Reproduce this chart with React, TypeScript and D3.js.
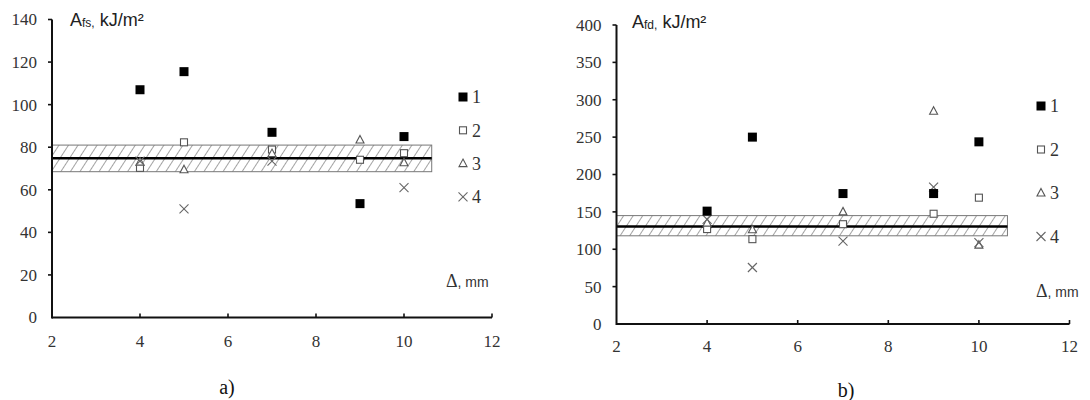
import React from "react";
import * as d3 from "d3";

const xValues = [4, 5, 7, 9, 10];
const xTicks = [2, 4, 6, 8, 10, 12];

// Panel a) A_fs, kJ/m²
const aSeries1 = [107, 115.5, 87, 53.5, 85];
const aSeries2 = [70.3, 82.3, 78.9, 74.1, 77.2];
const aSeries3 = [73, 69.4, 77, 83.4, 72.7];
const aSeries4: (number | null)[] = [73.5, 51, 73.5, null, 61];
const aYTicks = [0, 20, 40, 60, 80, 100, 120, 140];
const aBand = { low: 68.5, high: 81, mean: 74.8, xEnd: 10.63 };

// Panel b) A_fd, kJ/m²
const bSeries1 = [151, 250, 174.5, 174.5, 243.7];
const bSeries2 = [127, 113.5, 133.5, 147.5, 169];
const bSeries3 = [135, 126, 150, 284.6, 105.5];
const bSeries4: (number | null)[] = [140, 75.6, 111, 183, 109];
const bYTicks = [0, 50, 100, 150, 200, 250, 300, 350, 400];
const bBand = { low: 118, high: 145, mean: 130.5, xEnd: 10.63 };

const legendLabels = ["1", "2", "3", "4"];
const markerTypes = ["filled", "square", "triangle", "cross"];

const SERIF = "Liberation Serif, Times New Roman, serif";
const SANS = "Liberation Sans, Arial, sans-serif";

function Marker({ type, x, y }: { type: string; x: number; y: number }) {
  if (type === "filled") {
    return <rect x={x - 4.5} y={y - 4.5} width={9} height={9} fill="#000" />;
  }
  if (type === "square") {
    return <rect x={x - 3.5} y={y - 3.5} width={7} height={7} fill="#fff" stroke="#555" strokeWidth={1.1} />;
  }
  if (type === "triangle") {
    const p = d3.path();
    p.moveTo(x, y - 4.5);
    p.lineTo(x + 4, y + 3);
    p.lineTo(x - 4, y + 3);
    p.closePath();
    return <path d={p.toString()} fill="#fff" stroke="#555" strokeWidth={1.1} />;
  }
  const s = 4.5;
  return (
    <g stroke="#666" strokeWidth={1.1}>
      <line x1={x - s} y1={y - s} x2={x + s} y2={y + s} />
      <line x1={x - s} y1={y + s} x2={x + s} y2={y - s} />
    </g>
  );
}

type PanelProps = {
  id: string;
  x0: number;
  x1: number;
  y0: number;
  y1: number;
  yMax: number;
  yTicks: number[];
  series: (number | null)[][];
  band: { low: number; high: number; mean: number; xEnd: number };
  yLabelX: number;
  yLabelY: number;
  sub: string;
  subSep: string;
  legendX: number;
  legendY: number;
  legendStep: number;
  deltaX: number;
  deltaY: number;
  caption: string;
  captionX: number;
  captionY: number;
  xLabelY: number;
};

function Panel(p: PanelProps) {
  const x = d3.scaleLinear().domain([2, 12]).range([p.x0, p.x1]);
  const y = d3.scaleLinear().domain([0, p.yMax]).range([p.y0, p.y1]);
  const order = [1, 2, 3, 0];
  return (
    <g>
      <defs>
        <pattern id={`hatch-${p.id}`} width={8} height={8} patternUnits="userSpaceOnUse" patternTransform="rotate(33)">
          <line x1={0} y1={0} x2={0} y2={8} stroke="#333" strokeWidth={0.9} />
        </pattern>
      </defs>
      {/* band */}
      <rect
        x={x(2)}
        y={y(p.band.high)}
        width={x(p.band.xEnd) - x(2)}
        height={y(p.band.low) - y(p.band.high)}
        fill={`url(#hatch-${p.id})`}
        stroke="#777"
        strokeWidth={1}
      />
      <line x1={x(2)} x2={x(p.band.xEnd)} y1={y(p.band.mean)} y2={y(p.band.mean)} stroke="#000" strokeWidth={2.6} />
      {/* axes */}
      <line x1={x(2)} x2={x(12)} y1={y(0)} y2={y(0)} stroke="#111" strokeWidth={2} />
      <line x1={x(2)} x2={x(2)} y1={y(0) + 1} y2={y(p.yMax)} stroke="#111" strokeWidth={2} />
      {xTicks.map((t) => (
        <g key={"xt" + t}>
          {t > 2 && <line x1={x(t)} x2={x(t)} y1={y(0)} y2={y(0) - 4} stroke="#111" strokeWidth={1.6} />}
          <text x={x(t)} y={p.xLabelY} textAnchor="middle" fontFamily={SERIF} fontSize={17} fill="#333">
            {t}
          </text>
        </g>
      ))}
      {p.yTicks.map((t) => (
        <g key={"yt" + t}>
          {t > 0 && <line x1={x(2) - 4} x2={x(2)} y1={y(t)} y2={y(t)} stroke="#111" strokeWidth={1.6} />}
          <text x={x(2) - 15} y={y(t)} dy="0.35em" textAnchor="end" fontFamily={SERIF} fontSize={17} fill="#333">
            {t}
          </text>
        </g>
      ))}
      {/* points */}
      {order.map((si) =>
        p.series[si].map((v, i) =>
          v == null ? null : <Marker key={`m${si}-${i}`} type={markerTypes[si]} x={x(xValues[i])} y={y(v)} />
        )
      )}
      {/* y label */}
      <text x={p.yLabelX} y={p.yLabelY} fontFamily={SANS} fontSize={18} fill="#222">
        A
        <tspan fontSize={12} dy={1}>{p.sub}</tspan>
        <tspan dy={-1}>{p.subSep}kJ/m²</tspan>
      </text>
      {/* legend */}
      {legendLabels.map((lab, i) => (
        <g key={"lg" + i}>
          <Marker type={markerTypes[i]} x={p.legendX} y={p.legendY + i * p.legendStep} />
          <text x={p.legendX + 9} y={p.legendY + i * p.legendStep} dy="0.35em" fontFamily={SERIF} fontSize={18} fill="#333">
            {lab}
          </text>
        </g>
      ))}
      {/* x label */}
      <text x={p.deltaX} y={p.deltaY} fontFamily={SERIF} fontSize={18} fill="#333">
        Δ<tspan fontFamily={SANS} fontSize={14}>, mm</tspan>
      </text>
      {/* caption */}
      <text x={p.captionX} y={p.captionY} textAnchor="middle" fontFamily={SERIF} fontSize={20} fill="#111">
        {p.caption}
      </text>
    </g>
  );
}

export default function App() {
  return (
    <svg
      width={1090}
      height={400}
      viewBox="0 0 1090 400"
      style={{ position: "absolute", left: 0, top: 0, background: "#fff" }}
    >
      <rect width={1090} height={400} fill="#fff" />
      <Panel
        id="a"
        x0={52}
        x1={492}
        y0={317.5}
        y1={19.5}
        yMax={140}
        yTicks={aYTicks}
        series={[aSeries1, aSeries2, aSeries3, aSeries4]}
        band={aBand}
        yLabelX={70}
        yLabelY={26}
        sub="fs,"
        subSep={"  "}
        legendX={463}
        legendY={97}
        legendStep={33.3}
        deltaX={446}
        deltaY={287}
        caption="a)"
        captionX={227}
        captionY={394}
        xLabelY={347}
      />
      <Panel
        id="b"
        x0={616.5}
        x1={1069.5}
        y0={324}
        y1={25}
        yMax={400}
        yTicks={bYTicks}
        series={[bSeries1, bSeries2, bSeries3, bSeries4]}
        band={bBand}
        yLabelX={632}
        yLabelY={28}
        sub="fd,"
        subSep={" "}
        legendX={1041}
        legendY={106}
        legendStep={43.5}
        deltaX={1036}
        deltaY={297}
        caption="b)"
        captionX={846}
        captionY={397}
        xLabelY={352}
      />
    </svg>
  );
}
